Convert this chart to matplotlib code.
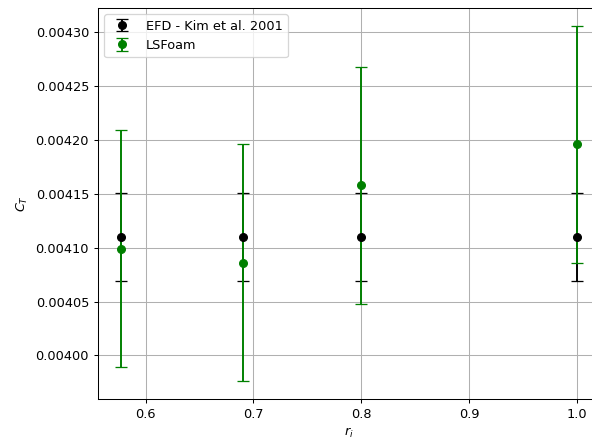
import matplotlib
matplotlib.use("Agg")
import matplotlib.pyplot as plt

# rotor radius ratios
r_i = [0.577, 0.69, 0.8, 1.0]

# EFD thrust coefficient (Kim et al. 2001) and its uncertainty
ct_efd = [0.00411, 0.00411, 0.00411, 0.00411]
ct_efd_err = [0.000041, 0.000041, 0.000041, 0.000041]

# LSFoam results
ct_lsfoam = [0.004099, 0.004086, 0.004158, 0.004196]
ct_lsfoam_err = [0.00011, 0.00011, 0.00011, 0.00011]

# 640x480 figure drawn at 92.5 dpi -> 592x444 px
fig = plt.figure(figsize=(6.4, 4.8), dpi=92.5)
# right edge of the axes runs past the canvas, as in the reference
ax = fig.add_axes([98 / 592, 45 / 444, 501.5 / 592, 391 / 444])

ax.errorbar(r_i, ct_efd, yerr=ct_efd_err, fmt="o", color="black", capsize=5,
            label="EFD - Kim et al. 2001")
ax.errorbar(r_i, ct_lsfoam, yerr=ct_lsfoam_err, fmt="o", color="green", capsize=5,
            label="LSFoam")

ax.set_xlabel("$r_i$")
ax.set_ylabel("$C_T$")
ax.grid(True)
ax.legend(loc="upper left")

fig.savefig("out.png", dpi=92.5)
